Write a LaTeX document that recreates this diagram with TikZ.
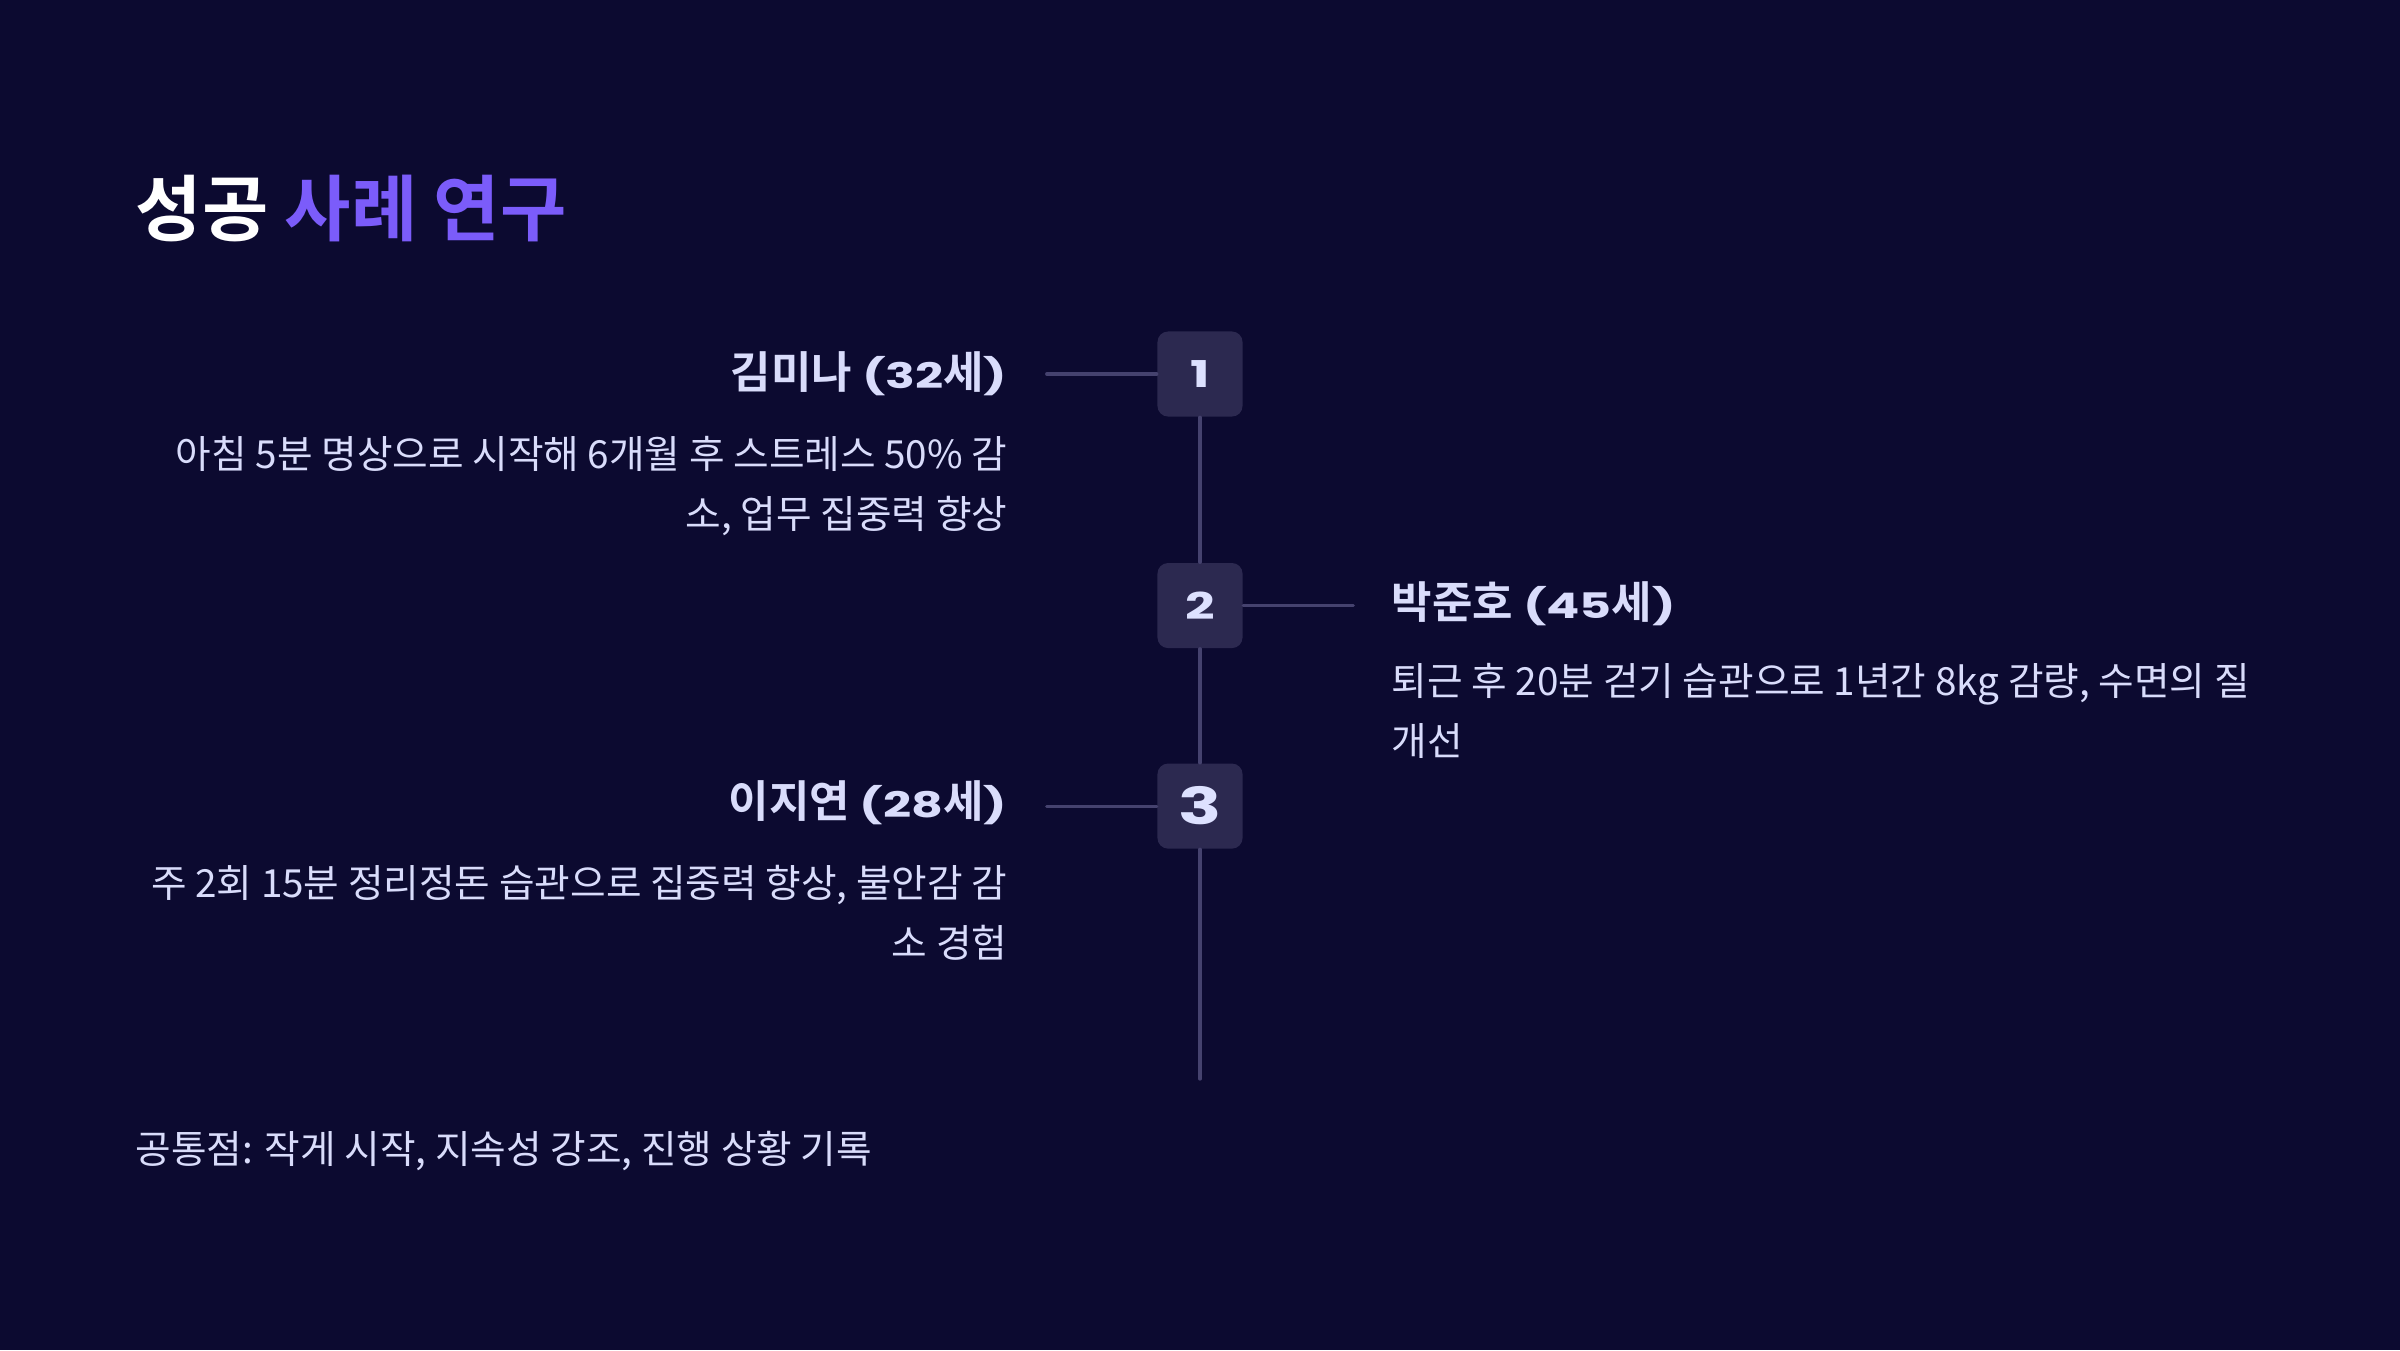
\documentclass[tikz,border=0pt]{standalone}
\usepackage{fontspec}
\usepackage{tikz}
\usetikzlibrary{positioning}
\setmainfont{Noto Sans CJK KR}[BoldFont={Noto Sans CJK KR Bold}]
\newfontfamily\numfont{Poppins}[FakeStretch=1.4]
\definecolor{bgNavy}{HTML}{0C0A30}
\definecolor{accentViolet}{HTML}{7B5CFA}
\definecolor{textLight}{HTML}{D9DCFB}
\definecolor{numLight}{HTML}{DDE1FF}
\definecolor{boxFill}{HTML}{2C2950}
\definecolor{lineGray}{HTML}{45426E}
\newcommand{\casename}[2]{#1 {\numfont\fontsize{10}{12}\selectfont(#2}세{\numfont\fontsize{10}{12}\selectfont)}}

\begin{document}
\begin{tikzpicture}[
    x=0.01cm, y=-0.01cm,
    stepbox/.style={rectangle, fill=boxFill, rounded corners=3pt, minimum size=0.85cm, inner sep=0pt, text=numLight, font=\numfont\bfseries\fontsize{10.5}{12}\selectfont},
    personname/.style={inner sep=0pt, text=textLight, font=\bfseries\fontsize{12.5}{15}\selectfont},
    story/.style={inner sep=0pt, text=textLight, font=\fontsize{11}{17}\selectfont},
    link/.style={draw=lineGray, line width=0.9pt, line cap=round}
]
    % Background
    \fill[bgNavy] (0,0) rectangle (2400,1350);

    % Title
    \node[anchor=base west, inner sep=0pt, text=white, font=\bfseries\fontsize{20.5}{25}\selectfont] (title) at (135,235) {성공 \textcolor{accentViolet}{사례 연구}};

    % Timeline steps
    \node[stepbox] (s1) at (1200,374) {1};
    \node[stepbox, below=1.45cm of s1] (s2) {2};
    \node[stepbox, below=1.14cm of s2, font=\numfont\bfseries\fontsize{14.5}{16}\selectfont] (s3) {3};
    \coordinate (tlend) at (1200,1079);
    \coordinate[left=1.1cm of s1] (c1);
    \coordinate[right=1.1cm of s2] (c2);
    \coordinate[left=1.1cm of s3] (c3);

    % Case 1 (left)
    \node[personname, anchor=base east] (n1) at (1008,388) {\casename{김미나}{32}};
    \node[story, anchor=base east, align=right] (d1) at (1008,528) {아침 5분 명상으로 시작해 6개월 후 스트레스 50\% 감\\소, 업무 집중력 향상};

    % Case 2 (right)
    \node[personname, anchor=base west] (n2) at (1391,618) {\casename{박준호}{45}};
    \node[story, anchor=base west, align=left] (d2) at (1391,755) {퇴근 후 20분 걷기 습관으로 1년간 8kg 감량, 수면의 질\\개선};

    % Case 3 (left)
    \node[personname, anchor=base east] (n3) at (1008,817) {\casename{이지연}{28}};
    \node[story, anchor=base east, align=right] (d3) at (1008,957) {주 2회 15분 정리정돈 습관으로 집중력 향상, 불안감 감\\소 경험};

    % Footer
    \node[story, anchor=base west] (note) at (135,1163) {공통점: 작게 시작, 지속성 강조, 진행 상황 기록};

    % Connectors
    \draw[link] (s1) -- (s2);
    \draw[link] (s2) -- (s3);
    \draw[link] (s3) -- (tlend);
    \draw[link] (c1) -- (s1);
    \draw[link] (s2) -- (c2);
    \draw[link] (c3) -- (s3);
\end{tikzpicture}
\end{document}
